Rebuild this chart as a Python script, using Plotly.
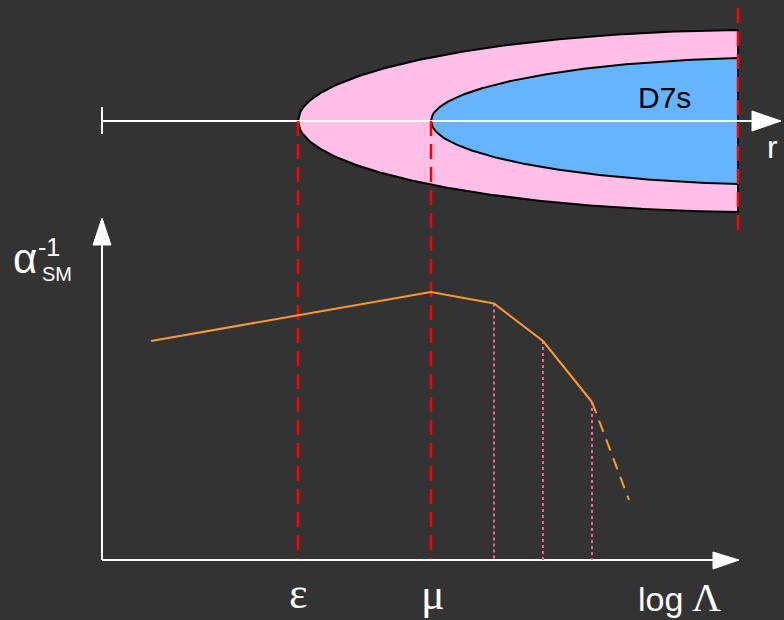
import numpy as np
import plotly.graph_objects as go

# ---- schematic data (diagram coordinates: x to the right, y downward) ----
# running of the inverse SM coupling vs log Lambda
log_lambda = [151, 431, 494, 543, 592]
alpha_inv = [341, 292, 303.5, 341, 402]
extrap_log_lambda = [592, 629]
extrap_alpha_inv = [402, 500]
# thresholds
eps_scale = 298
mu_scale = 431
cutoff_scale = 738
kk_thresholds = [494, 543, 592]
kk_alpha = [303.5, 341, 402]
threshold_labels = ["ε", "μ"]

# geometry of the schematic
r_axis_y = 121
r_axis_start = 102
origin = (102, 560)
outer_a, outer_b = 469, 91.2
inner_a, inner_b = 359, 63.7

BG = "#333333"
PINK = "#ffbfe6"
BLUE = "#66b3ff"
ORANGE = "#ff9933"
RED = "#ff0000"
DOT = "#f0609a"

fig = go.Figure()


def lens(x0, a, b, xend, color):
    xc = x0 + a
    x = np.linspace(x0, xend, 200)
    h = b * np.sqrt(np.clip(1 - ((x - xc) / a) ** 2, 0, None))
    xs = np.concatenate([x[::-1], x, [xend]])
    ys = np.concatenate([r_axis_y - h[::-1], r_axis_y + h, [r_axis_y - h[-1]]])
    fig.add_trace(go.Scatter(x=xs, y=ys, mode="lines", fill="toself",
                             fillcolor=color, line=dict(color="black", width=2),
                             hoverinfo="skip", showlegend=False))


lens(eps_scale, outer_a, outer_b, cutoff_scale, PINK)
lens(mu_scale, inner_a, inner_b, cutoff_scale, BLUE)


def line(xs, ys, color, width=2, dash=None):
    fig.add_trace(go.Scatter(x=xs, y=ys, mode="lines",
                             line=dict(color=color, width=width, dash=dash),
                             hoverinfo="skip", showlegend=False))


def tri(xs, ys, color="white"):
    fig.add_trace(go.Scatter(x=xs, y=ys, mode="lines", fill="toself",
                             fillcolor=color, line=dict(color=color, width=1),
                             hoverinfo="skip", showlegend=False))


# r axis
line([r_axis_start, 755], [r_axis_y, r_axis_y], "white", 2)
line([r_axis_start, r_axis_start], [107, 134], "white", 2)
tri([752, 781, 752, 752], [111, r_axis_y, 131, 111])

# red dashed threshold lines
line([eps_scale, eps_scale], [r_axis_y, origin[1]], RED, 2.5, "15px,8px")
line([mu_scale, mu_scale], [r_axis_y, origin[1]], RED, 2.5, "15px,8px")
line([cutoff_scale, cutoff_scale], [8, 232], RED, 2.5, "15px,8px")

# lower axes
line([origin[0], origin[0]], [origin[1], 240], "white", 2)
tri([93, 102, 111, 93], [245, 218, 245, 245])
line([origin[0], 716], [origin[1], origin[1]], "white", 2)
tri([713, 739, 713, 713], [552, origin[1], 569, 552])

# KK thresholds (dotted)
for x, y in zip(kk_thresholds, kk_alpha):
    line([x, x], [y, origin[1]], DOT, 2, "3px,3px")

# running coupling
line(log_lambda, alpha_inv, ORANGE, 2)
line(extrap_log_lambda, extrap_alpha_inv, ORANGE, 2, "12px,8px")

ann = [
    dict(x=664, y=97, text="D7s", font=dict(size=30, color="black", family="Liberation Sans")),
    dict(x=772, y=147, text="r", font=dict(size=32, color="white", family="Liberation Sans")),
    dict(x=eps_scale, y=593, text=threshold_labels[0], font=dict(size=44, color="white", family="Liberation Serif")),
    dict(x=433, y=594, text=threshold_labels[1], font=dict(size=44, color="white", family="Liberation Serif")),
    dict(x=660, y=599, text="log", font=dict(size=34, color="white", family="Liberation Sans")),
    dict(x=706, y=597, text="Λ", font=dict(size=40, color="white", family="Liberation Serif")),
    dict(x=25, y=258, text="α", font=dict(size=42, color="white", family="Liberation Sans")),
    dict(x=49, y=247, text="-1", font=dict(size=25, color="white", family="Liberation Sans")),
    dict(x=57, y=274, text="SM", font=dict(size=20, color="white", family="Liberation Sans")),
]
for a in ann:
    a.update(showarrow=False, xref="x", yref="y", xanchor="center", yanchor="middle")

fig.update_layout(
    width=784, height=620,
    margin=dict(l=0, r=0, t=0, b=0),
    paper_bgcolor=BG, plot_bgcolor=BG,
    xaxis=dict(range=[0, 784], visible=False, fixedrange=True),
    yaxis=dict(range=[620, 0], visible=False, fixedrange=True),
    annotations=ann,
    showlegend=False,
)
fig.write_html("out.html", config={"displayModeBar": False},
               post_script="document.body.style.margin='0';document.body.style.overflow='hidden';document.body.style.background='#333333';")
